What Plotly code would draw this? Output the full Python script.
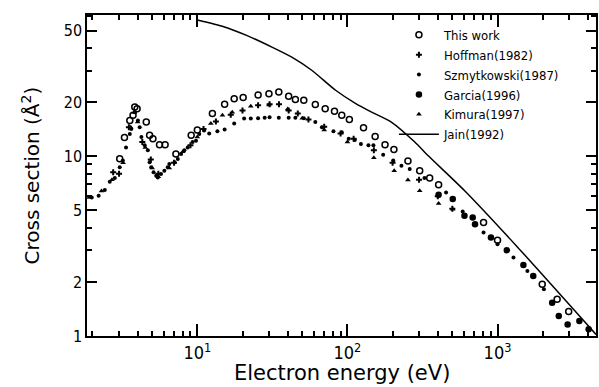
import plotly.graph_objects as go

# ---- data ----
this_E = [3.04, 3.27, 3.55, 3.73, 3.83, 3.97, 4.57, 4.81, 5.06, 5.6, 6.1, 7.2, 9.1, 10.0, 12.6, 15.2, 17.6, 20.2,
          25.4, 30.0, 34.9, 40.6, 45.0, 51.2, 61.1, 71.1, 82.0, 91.7, 103, 128, 153, 178, 204, 253, 303, 353,
          405, 807, 1000, 1985, 2495, 2979]
this_S = [9.7, 12.7, 15.8, 16.9, 18.8, 18.4, 15.5, 13.1, 12.5, 11.6, 11.6, 10.3, 13.1, 14.0, 17.3, 19.5, 20.9, 21.2,
          21.9, 22.3, 22.8, 21.6, 20.7, 20.5, 19.4, 18.4, 17.8, 16.9, 16.0, 14.4, 12.9, 11.6, 10.9, 9.4, 8.3, 7.57,
          6.95, 4.28, 3.41, 1.94, 1.60, 1.37]

hoff_E = [2.75, 3.01, 3.5, 4.3, 4.9, 5.5, 7.0, 9.0, 11.0, 13.3, 16.7, 20.0, 25.4, 30.3, 35.0, 40.6, 46.7, 55,
          70, 90, 110, 150, 200, 300, 400, 500]
hoff_S = [8.14, 8.0, 14.5, 12.0, 9.6, 8.0, 9.2, 11.5, 14.2, 15.6, 17.0, 18.0, 19.2, 19.5, 19.5, 18.0, 17.3, 16.0,
          14.6, 13.4, 12.5, 10.8, 9.2, 7.4, 6.0, 5.1]

szmy_E = [1.98, 2.2, 2.42, 2.61, 2.82, 3.04, 3.19, 3.35, 3.55, 3.63, 3.83, 4.02, 4.13, 4.24, 4.46, 4.68, 4.81, 4.93,
          5.11, 5.32, 5.45, 5.73, 6.03, 6.35, 6.51, 7.05, 7.41, 7.8, 8.2, 8.63, 9.3, 9.8, 10.3, 11.1, 12.0, 13.6,
          15.2, 17.6, 20.5, 22.7, 25.4, 28.1, 30.3, 34.9, 40.6, 45.0, 51.2, 61.1, 67.6, 80.7, 91.7, 102, 112, 123,
          138, 149, 173, 202, 229, 260, 326, 454, 586, 807, 1000, 1277, 1581, 2037]
szmy_S = [5.9, 6.03, 6.49, 7.22, 7.57, 8.69, 9.46, 11.2, 13.3, 14.2, 17.6, 15.8, 14.5, 12.8, 11.5, 10.8, 9.25, 8.69,
          8.14, 7.8, 7.63, 7.97, 8.32, 8.69, 9.07, 9.25, 9.67, 10.3, 10.8, 11.2, 12.0, 12.2, 13.3, 13.9, 13.4, 13.8,
          14.1, 15.2, 16.2, 16.2, 16.3, 16.4, 16.5, 16.4, 16.4, 16.4, 16.3, 15.5, 14.5, 13.8, 13.6, 12.5, 12.3, 11.7,
          11.5, 11.5, 10.2, 9.46, 8.87, 8.5, 7.57, 6.29, 4.93, 3.76, 3.24, 2.73, 2.30, 1.82]

garc_E = [405, 503, 602, 683, 708, 904, 1153, 1487, 1730, 2311, 2559, 2930, 3508, 4045]
garc_S = [6.11, 5.78, 4.66, 4.56, 4.19, 3.53, 3.0, 2.48, 2.16, 1.53, 1.29, 1.16, 1.21, 1.09]

kimu_E = [1.9, 2.3, 2.7, 3.2, 3.6, 3.8, 4.0, 4.5, 5.0, 5.5, 6.5, 8.0, 10.0, 12.3, 14.7, 17.1, 22.7, 30, 40, 50,
          70, 100, 150, 205, 253, 303, 405, 503]
kimu_S = [5.9, 6.4, 7.4, 9.2, 14.5, 17.5, 15.5, 11.2, 8.6, 7.7, 8.6, 10.6, 12.8, 15.2, 16.9, 17.6, 19.0, 19.3,
          18.3, 16.3, 14.0, 12.0, 9.8, 8.32, 7.38, 6.43, 5.46, 5.08]

jain_E = [10, 15, 21.1, 31.4, 42.6, 57.8, 83.4, 113, 145, 196, 281, 344, 604, 1356, 4530]
jain_S = [57.3, 52.6, 47.2, 40.5, 35.6, 30.1, 23.3, 19.7, 17.6, 15.5, 12.0, 10.1, 6.43, 3.13, 1.02]

x_major = [10, 100, 1000]
x_major_text = ["10<sup>1</sup>", "10<sup>2</sup>", "10<sup>3</sup>"]
y_major = [1, 2, 5, 10, 20, 50]
y_major_text = ["1", "2", "5", "10", "20", "50"]

X_RANGE = [0.265, 3.656]
Y_RANGE = [0.0, 1.786]

FONT_C = "DejaVu Sans Condensed, Liberation Sans Narrow, sans-serif"
FONT = "DejaVu Sans, sans-serif"

fig = go.Figure()
fig.add_trace(go.Scatter(x=this_E, y=this_S, mode="markers", name="This work",
                         marker=dict(symbol="circle-open", size=6, color="black", line=dict(width=1.5, color="black"))))
fig.add_trace(go.Scatter(x=hoff_E, y=hoff_S, mode="markers", name="Hoffman(1982)",
                         marker=dict(symbol="cross", size=5, color="black")))
fig.add_trace(go.Scatter(x=szmy_E, y=szmy_S, mode="markers", name="Szmytkowski(1987)",
                         marker=dict(symbol="circle", size=4, color="black")))
fig.add_trace(go.Scatter(x=garc_E, y=garc_S, mode="markers", name="Garcia(1996)",
                         marker=dict(symbol="circle", size=6.5, color="black")))
fig.add_trace(go.Scatter(x=kimu_E, y=kimu_S, mode="markers", name="Kimura(1997)",
                         marker=dict(symbol="triangle-up", size=5, color="black")))
fig.add_trace(go.Scatter(x=jain_E, y=jain_S, mode="lines", name="Jain(1992)",
                         line=dict(color="black", width=1.5, shape="spline", smoothing=0.6)))

# main axes: labels and box
fig.update_layout(
    xaxis=dict(type="log", range=X_RANGE, tickvals=x_major, ticktext=x_major_text,
               ticks="inside", ticklen=12, tickwidth=2, tickcolor="black",
               showline=True, linecolor="black", linewidth=1.5, mirror="allticks", showgrid=False,
               tickfont=dict(size=18, family=FONT_C, color="black"),
               minor=dict(dtick="D1", ticks="inside", ticklen=5, tickcolor="black", tickwidth=1.5)),
    yaxis=dict(type="log", range=Y_RANGE, tickvals=y_major, ticktext=y_major_text,
               ticks="inside", ticklen=10, tickwidth=2, tickcolor="black",
               showline=True, linecolor="black", linewidth=1.5, mirror="allticks", showgrid=False,
               tickfont=dict(size=16, family=FONT_C, color="black"),
               minor=dict(dtick="D1", ticks="inside", ticklen=5, tickcolor="black", tickwidth=1.5)),
    # overlay axes (same scales, no traces) carrying the inward tick marks
    xaxis2=dict(type="log", range=X_RANGE, overlaying="x", anchor="y2", side="bottom",
                tickvals=x_major, showticklabels=False,
                ticks="inside", ticklen=12, tickwidth=2, tickcolor="black", mirror="allticks",
                showline=True, linecolor="black", linewidth=1.5, showgrid=False, zeroline=False,
                minor=dict(dtick="D1", ticks="inside", ticklen=5, tickcolor="black", tickwidth=1.5)),
    yaxis2=dict(type="log", range=Y_RANGE, overlaying="y", anchor="x2", side="left",
                tickvals=y_major, showticklabels=False,
                ticks="inside", ticklen=10, tickwidth=2, tickcolor="black", mirror="allticks",
                showline=True, linecolor="black", linewidth=1.5, showgrid=False, zeroline=False,
                minor=dict(dtick="D1", ticks="inside", ticklen=5, tickcolor="black", tickwidth=1.5)),
)

fig.add_annotation(text="Electron energy (eV)", xref="paper", yref="paper", x=0.5, y=0, yshift=-37,
                   xanchor="center", yanchor="middle", showarrow=False,
                   font=dict(size=21, family=FONT, color="black"))
fig.add_annotation(text="Cross section (Å<sup>2</sup>)", xref="paper", yref="paper", x=0, xshift=-57, y=0.5,
                   xanchor="center", yanchor="middle", textangle=-90, showarrow=False,
                   font=dict(size=20, family=FONT, color="black"))

fig.update_layout(
    template="simple_white",
    width=599, height=387,
    margin=dict(l=87, r=1, t=15, b=51),
    showlegend=True,
    legend=dict(x=0.603, y=0.985, xanchor="left", yanchor="top", bgcolor="rgba(0,0,0,0)",
                font=dict(size=13, family=FONT_C, color="black"), itemwidth=40, tracegroupgap=0),
)

fig.write_html("out.html", post_script="document.body.style.margin='0px';", config={"displayModeBar": False})
